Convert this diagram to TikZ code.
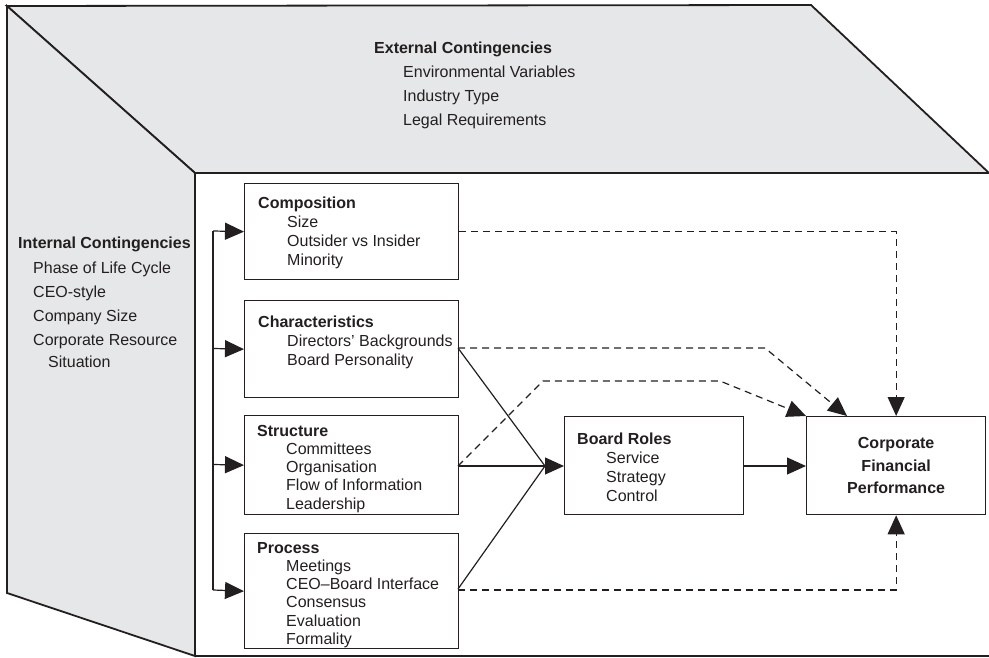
\documentclass[tikz,border=0pt]{standalone}
\usepackage{fontspec}
\setmainfont{Liberation Sans}
\usetikzlibrary{arrows.meta}
\definecolor{facegray}{HTML}{E6E7E8}
\definecolor{ink}{HTML}{231F20}
\newcommand{\blocktext}[2]{\begin{tabular}[t]{@{}l@{}}\textbf{#1}#2\end{tabular}}
\newcommand{\ind}{\\\hspace*{29pt}}
\begin{document}
\begin{tikzpicture}[x=1pt,y=-1pt,
  every node/.style={font=\fontsize{16}{19}\selectfont, text=ink},
  panel/.style={draw=ink, line width=1.3pt, fill=white, rectangle, inner sep=0pt, anchor=north west},
  wall/.style={draw=ink, line width=1.8pt, fill=facegray, line join=miter},
  link/.style={draw=ink, line width=1.2pt},
  dlink/.style={link, dash pattern=on 7pt off 5pt},
  tip/.style={-{Triangle[length=19pt,width=17pt]}},
  txt/.style={anchor=base west, inner sep=0pt, align=left},
  tight/.style={font=\fontsize{16}{18.3}\selectfont}
]
\useasboundingbox (0,0) rectangle (989,658);

% box walls: top and left faces, front face outline
\path[wall] (7,6) -- (811,5) -- (989,173) -- (195,173) -- cycle;
\path[wall] (7,6) -- (195,173) -- (195,656) -- (7,593) -- cycle;
\draw[ink, line width=1.8pt] (195,656) -- (989,656);

% contingency lists
\node[txt] (extT) at (374,54) {\textbf{External Contingencies}};
\node[txt] (ext1) at (403,78) {Environmental Variables};
\node[txt] (ext2) at (403,102) {Industry Type};
\node[txt] (ext3) at (403,126) {Legal Requirements};

\node[txt] (intT) at (18,248) {\textbf{Internal Contingencies}};
\node[txt] (int1) at (33,273) {Phase of Life Cycle};
\node[txt] (int2) at (33,297) {CEO-style};
\node[txt] (int3) at (33,321) {Company Size};
\node[txt] (int4) at (33,345) {Corporate Resource};
\node[txt] (int5) at (48,367) {Situation};

% board attribute boxes
\node[panel, minimum width=214pt, minimum height=96pt] (comp) at (244,183) {};
\node[panel, minimum width=214pt, minimum height=97pt] (char) at (244,300) {};
\node[panel, minimum width=214pt, minimum height=99pt] (struc) at (244,415) {};
\node[panel, minimum width=214pt, minimum height=115pt] (proc) at (244,533) {};
\node[panel, minimum width=179pt, minimum height=98pt] (roles) at (564,416) {};
\node[panel, minimum width=179pt, minimum height=98pt] (cfp) at (806,416) {};

\node[txt] (compT) at (258,209) {\blocktext{Composition}{\ind Size\ind Outsider vs Insider\ind Minority}};
\node[txt] (charT) at (258,327) {\blocktext{Characteristics}{\ind Directors’ Backgrounds\ind Board Personality}};
\node[txt, tight] (strucT) at (257,436) {\blocktext{Structure}{\ind Committees\ind Organisation\ind Flow of Information\ind Leadership}};
\node[txt, tight] (procT) at (257,553) {\blocktext{Process}{\ind Meetings\ind CEO–Board Interface\ind Consensus\ind Evaluation\ind Formality}};
\node[txt] (rolesT) at (577,444) {\blocktext{Board Roles}{\ind Service\ind Strategy\ind Control}};
\node[font=\fontsize{16}{22.5}\selectfont\bfseries, align=center, inner sep=0pt] (cfpT) at (cfp.center) {Corporate\\Financial\\Performance};

% internal contingencies feed every attribute box
\coordinate (busTop) at (213,231);
\coordinate (busBot) at (213,590);
\draw[link] (busTop) -- (busBot);
\draw[link, tip] (busTop) -- (comp.west);
\draw[link, tip] (213,348.5) -- (char.west);
\draw[link, tip] (213,464.5) -- (struc.west);
\draw[link, tip] (busBot) -- (proc.west);

% attributes shape board roles
\coordinate (meet) at (545,466);
\coordinate (charOut) at (458,348);
\coordinate (procOut) at (458,589);
\draw[link] (charOut) -- (meet);
\draw[link] (procOut) -- (meet);
\draw[link, tip] (458,466) -- (roles.west |- 0,466);
\draw[link, tip] (roles.east |- 0,466) -- (cfp.west |- 0,466);

% direct effects on performance
\draw[dlink, tip] (comp.east) -| (cfp.north);
\draw[dlink, tip] (charOut) -- (765,348) -- (847,416);
\draw[dlink, tip] (458,466) -- (543,381) -- (720,381) -- (cfp.north west);
\draw[dlink, tip] (458,590) -| (cfp.south);
\end{tikzpicture}
\end{document}
